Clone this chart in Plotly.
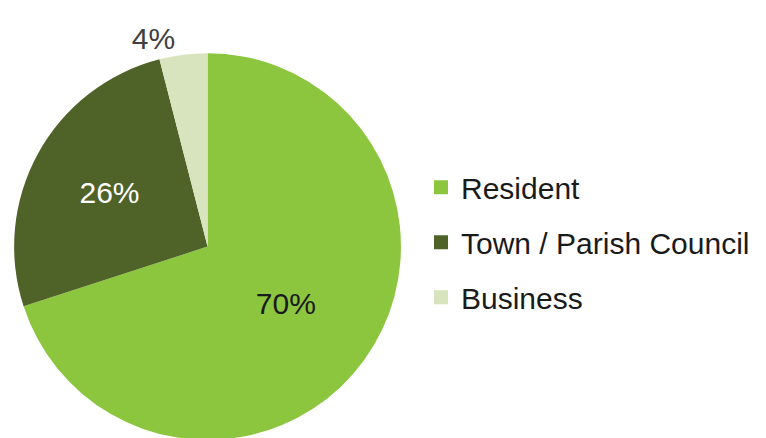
import plotly.graph_objects as go

labels = ["Resident", "Town / Parish Council", "Business"]
values = [70, 26, 4]
colors = ["#8CC63F", "#4F6228", "#D7E4BD"]
text_colors = ["#1A1A1A", "#FFFFFF", "#404040"]

FONT = "Liberation Sans, Arial, sans-serif"

fig = go.Figure()
fig.add_trace(go.Pie(
    labels=labels,
    values=values,
    sort=False,
    direction="clockwise",
    rotation=0,
    marker={"colors": colors, "line": {"width": 0}},
    texttemplate="%{percent:.0%}",
    textposition=["inside", "inside", "outside"],
    insidetextorientation="horizontal",
    textfont={"family": FONT, "size": 30, "color": text_colors},
    domain={"x": [0.008, 0.513], "y": [0, 0.898]},
    showlegend=False,
    hoverinfo="label+percent",
))

# legend entries, one group each so the spacing can be opened up
for name, col in zip(labels, colors):
    fig.add_trace(go.Scatter(
        x=[None], y=[None], mode="markers", name=name, legendgroup=name,
        marker={"symbol": "square", "size": 14, "color": col, "line": {"width": 0}},
    ))

fig.update_layout(
    width=766,
    height=438,
    margin={"l": 0, "r": 0, "t": 0, "b": 0},
    paper_bgcolor="white",
    plot_bgcolor="white",
    font={"family": FONT, "color": "#1A1A1A"},
    xaxis={"visible": False},
    yaxis={"visible": False},
    legend={
        "x": 413 / 766, "y": 1 - 237 / 438, "xanchor": "left", "yanchor": "middle",
        "font": {"family": FONT, "size": 30, "color": "#1A1A1A"},
        "tracegroupgap": 13, "bgcolor": "rgba(0,0,0,0)",
    },
)

fig.write_html("out.html")
